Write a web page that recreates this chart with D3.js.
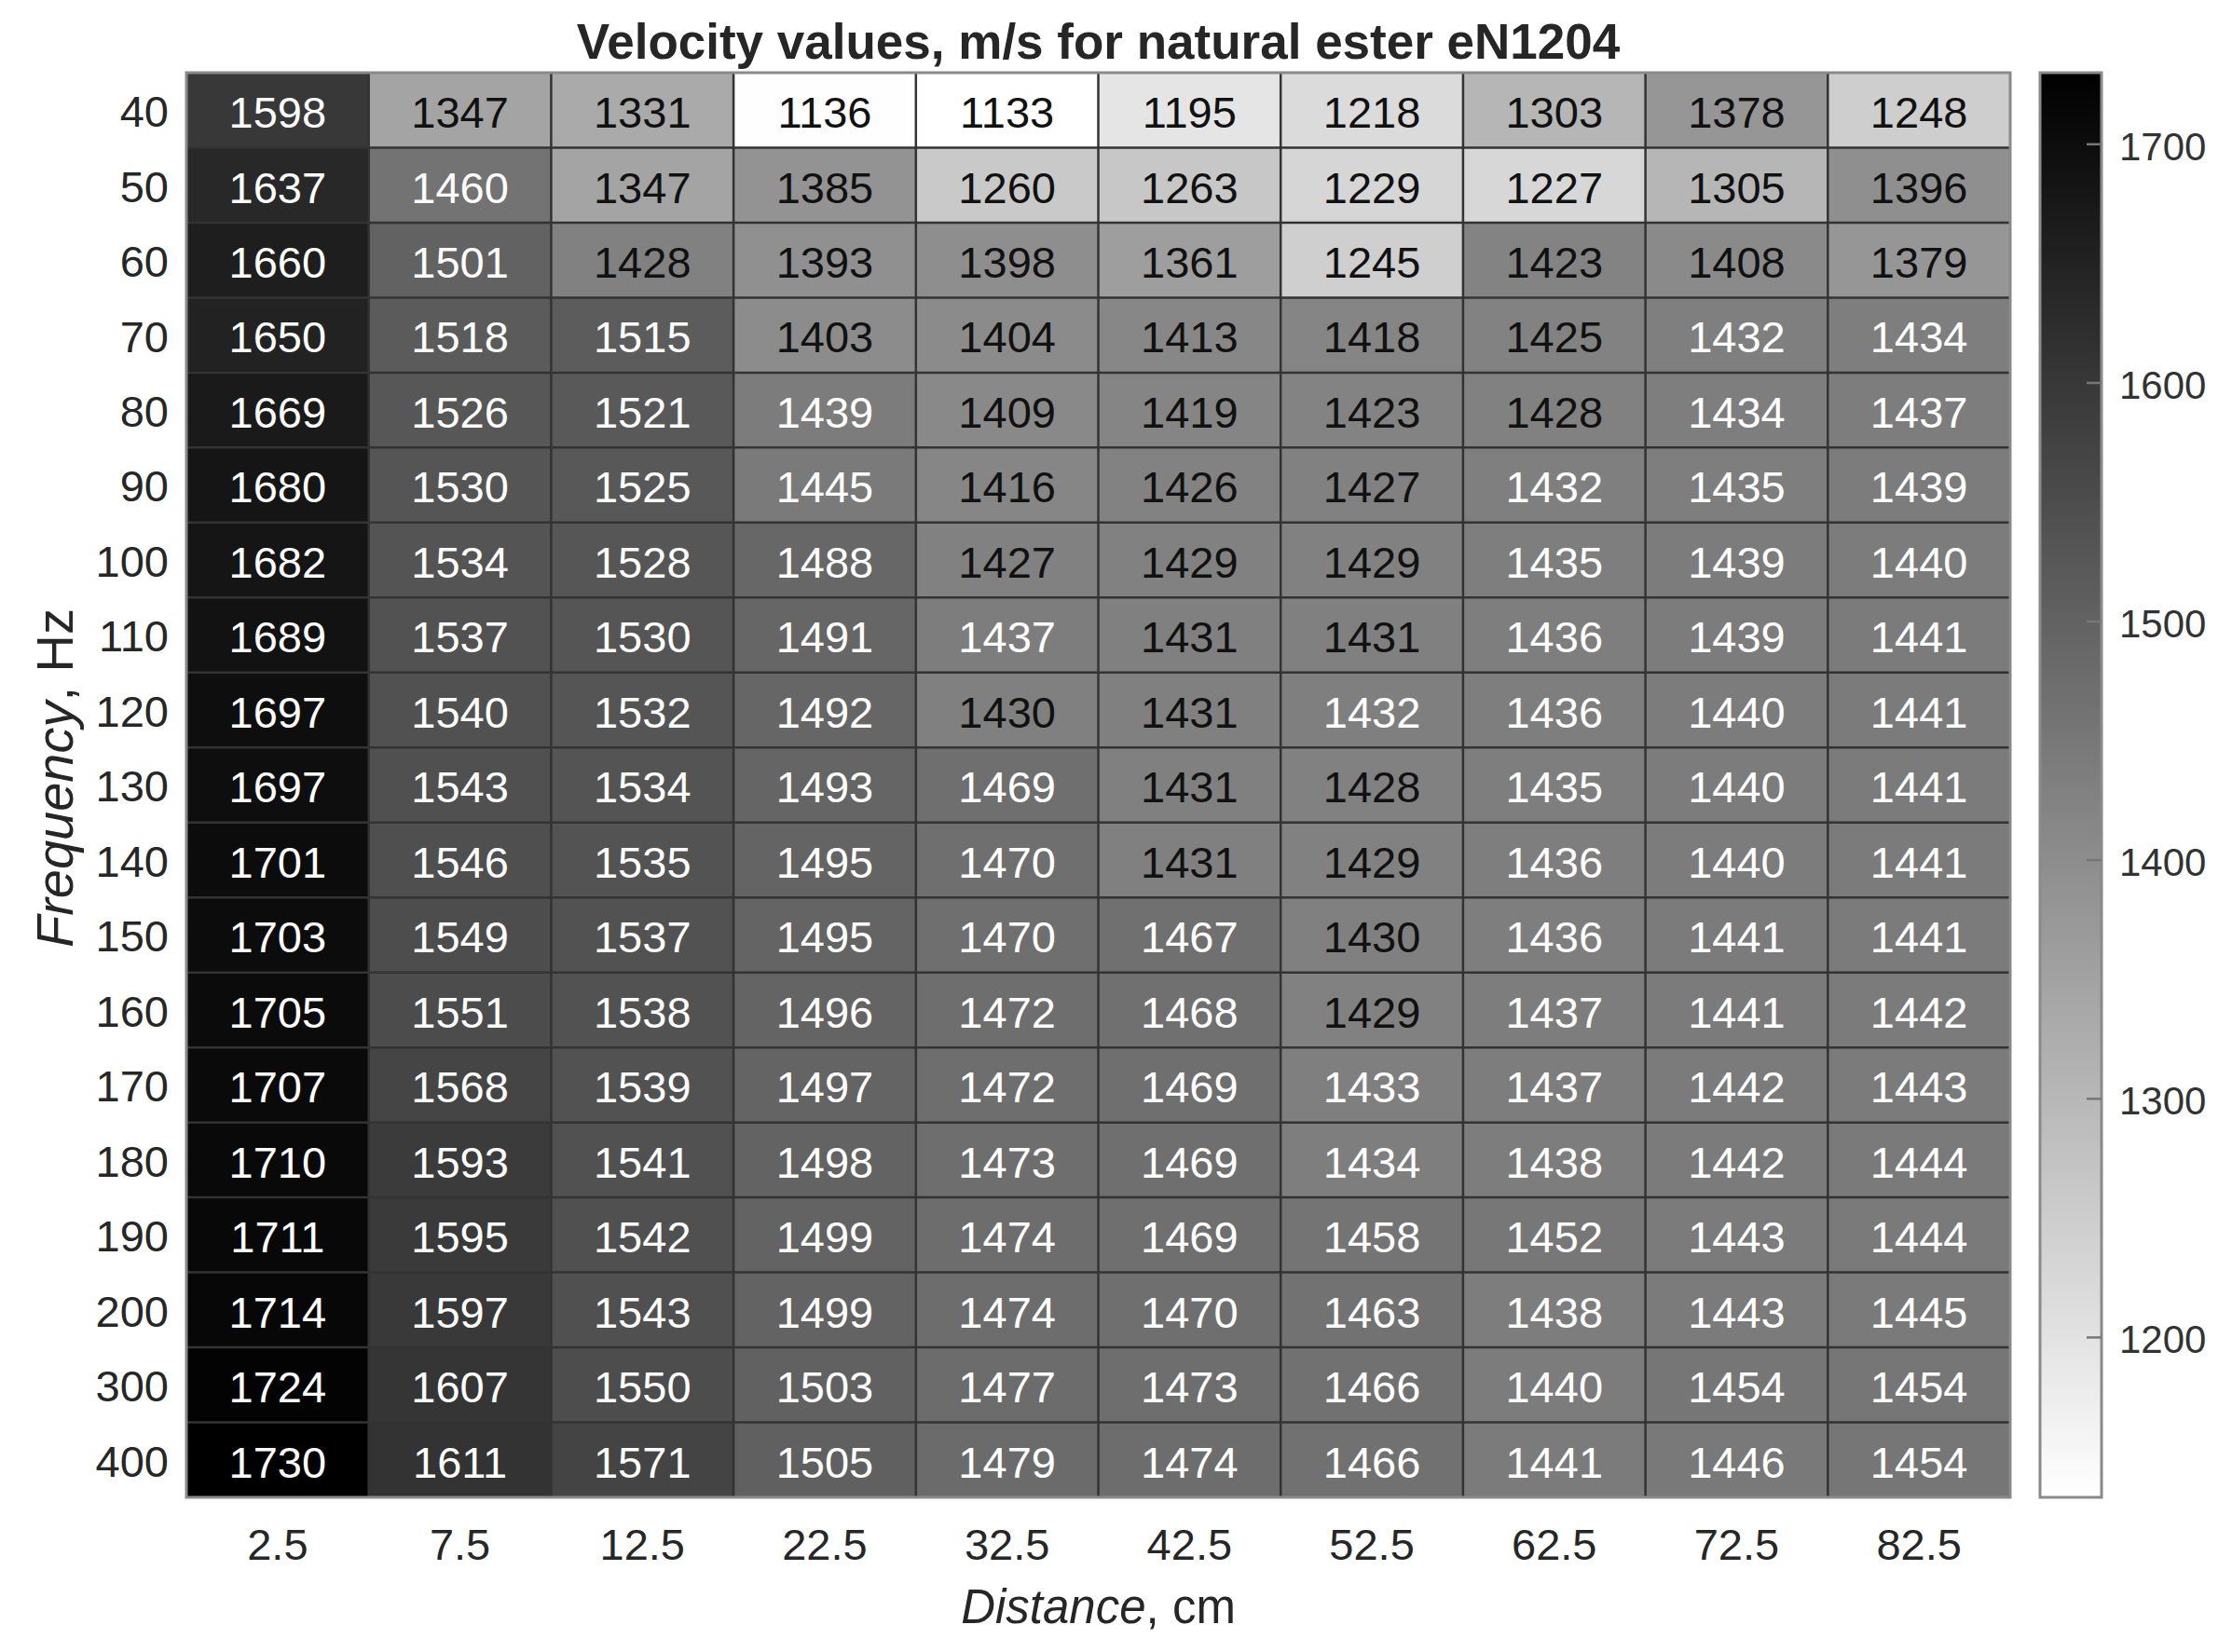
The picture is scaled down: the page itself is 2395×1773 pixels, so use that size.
<!DOCTYPE html>
<html>
<head>
<meta charset="utf-8">
<script src="https://cdn.jsdelivr.net/npm/d3@7"></script>
<style>
  body { margin: 0; background: #fff; }
  text { font-family: "Liberation Sans", Arial, sans-serif; }
</style>
</head>
<body>
<div id="chart"></div>
<script>
// distance (cm) along x, frequency (Hz) along y
let distances = ['2.5', '7.5', '12.5', '22.5', '32.5', '42.5', '52.5', '62.5', '72.5', '82.5'];
let frequencies = ['40', '50', '60', '70', '80', '90', '100', '110', '120', '130',
                   '140', '150', '160', '170', '180', '190', '200', '300', '400'];

// velocity, m/s, one row per frequency
let velocity = [
    [1598, 1347, 1331, 1136, 1133, 1195, 1218, 1303, 1378, 1248],
    [1637, 1460, 1347, 1385, 1260, 1263, 1229, 1227, 1305, 1396],
    [1660, 1501, 1428, 1393, 1398, 1361, 1245, 1423, 1408, 1379],
    [1650, 1518, 1515, 1403, 1404, 1413, 1418, 1425, 1432, 1434],
    [1669, 1526, 1521, 1439, 1409, 1419, 1423, 1428, 1434, 1437],
    [1680, 1530, 1525, 1445, 1416, 1426, 1427, 1432, 1435, 1439],
    [1682, 1534, 1528, 1488, 1427, 1429, 1429, 1435, 1439, 1440],
    [1689, 1537, 1530, 1491, 1437, 1431, 1431, 1436, 1439, 1441],
    [1697, 1540, 1532, 1492, 1430, 1431, 1432, 1436, 1440, 1441],
    [1697, 1543, 1534, 1493, 1469, 1431, 1428, 1435, 1440, 1441],
    [1701, 1546, 1535, 1495, 1470, 1431, 1429, 1436, 1440, 1441],
    [1703, 1549, 1537, 1495, 1470, 1467, 1430, 1436, 1441, 1441],
    [1705, 1551, 1538, 1496, 1472, 1468, 1429, 1437, 1441, 1442],
    [1707, 1568, 1539, 1497, 1472, 1469, 1433, 1437, 1442, 1443],
    [1710, 1593, 1541, 1498, 1473, 1469, 1434, 1438, 1442, 1444],
    [1711, 1595, 1542, 1499, 1474, 1469, 1458, 1452, 1443, 1444],
    [1714, 1597, 1543, 1499, 1474, 1470, 1463, 1438, 1443, 1445],
    [1724, 1607, 1550, 1503, 1477, 1473, 1466, 1440, 1454, 1454],
    [1730, 1611, 1571, 1505, 1479, 1474, 1466, 1441, 1446, 1454]
];

let colorbarTicks = [1200, 1300, 1400, 1500, 1600, 1700];

let width = 2395, height = 1773;
let plotLeft = 200, plotRight = 2157, plotTop = 78, plotBottom = 1607;

let svg = d3.select('#chart').append('svg')
    .attr('width', width)
    .attr('height', height);

let x = d3.scaleBand().domain(distances).range([plotLeft, plotRight]);
let y = d3.scaleBand().domain(frequencies).range([plotTop, plotBottom]);

// flat list of cells
let cells = [];
velocity.forEach(function (row, i) {
    row.forEach(function (v, j) {
        cells.push({f: frequencies[i], d: distances[j], v: v});
    });
});

let extent = d3.extent(cells, d => d.v);
let color = d3.scaleLinear().domain(extent).range(['#ffffff', '#000000']);
let mid = (extent[0] + extent[1]) / 2;

svg.append('g').selectAll('rect')
    .data(cells)
    .enter().append('rect')
    .attr('x', d => x(d.d))
    .attr('y', d => y(d.f))
    .attr('width', x.bandwidth())
    .attr('height', y.bandwidth())
    .attr('fill', d => color(d.v));

// grid lines between cells
let grid = svg.append('g').attr('stroke', '#333').attr('stroke-width', 2.5);
distances.slice(1).forEach(function (d) {
    grid.append('line')
        .attr('x1', x(d)).attr('x2', x(d))
        .attr('y1', plotTop).attr('y2', plotBottom);
});
frequencies.slice(1).forEach(function (f) {
    grid.append('line')
        .attr('x1', plotLeft).attr('x2', plotRight)
        .attr('y1', y(f)).attr('y2', y(f));
});

svg.append('rect')
    .attr('x', plotLeft).attr('y', plotTop)
    .attr('width', plotRight - plotLeft).attr('height', plotBottom - plotTop)
    .attr('fill', 'none')
    .attr('stroke', '#8a8a8a')
    .attr('stroke-width', 3);

// values inside the cells
svg.append('g').selectAll('text')
    .data(cells)
    .enter().append('text')
    .attr('x', d => x(d.d) + x.bandwidth() / 2)
    .attr('y', d => y(d.f) + y.bandwidth() / 2)
    .attr('dy', '0.4em')
    .attr('text-anchor', 'middle')
    .attr('font-size', 47)
    .attr('fill', d => d.v > mid ? '#ffffff' : '#111111')
    .text(d => d.v);

// axes
let xAxis = svg.append('g')
    .attr('transform', 'translate(0,' + plotBottom + ')')
    .call(d3.axisBottom(x).tickSize(0).tickPadding(0));
xAxis.select('.domain').remove();
xAxis.selectAll('text')
    .attr('y', 67)
    .attr('dy', 0)
    .attr('font-size', 47)
    .attr('fill', '#262626');

let yAxis = svg.append('g')
    .attr('transform', 'translate(' + plotLeft + ',0)')
    .call(d3.axisLeft(y).tickSize(0).tickPadding(19));
yAxis.select('.domain').remove();
yAxis.selectAll('text')
    .attr('dy', '0.38em')
    .attr('font-size', 47)
    .attr('fill', '#262626');

svg.selectAll('.tick text').style('font-family', '"Liberation Sans", Arial, sans-serif');

// title and axis labels
svg.append('text')
    .attr('x', (plotLeft + plotRight) / 2)
    .attr('y', 63)
    .attr('text-anchor', 'middle')
    .attr('font-size', 53)
    .attr('font-weight', 'bold')
    .attr('fill', '#262626')
    .text('Velocity values, m/s for natural ester eN1204');

let xLabel = svg.append('text')
    .attr('x', (plotLeft + plotRight) / 2)
    .attr('y', 1742)
    .attr('text-anchor', 'middle')
    .attr('font-size', 51)
    .attr('fill', '#262626');
xLabel.append('tspan').attr('font-style', 'italic').text('Distance');
xLabel.append('tspan').text(', cm');

let yLabel = svg.append('text')
    .attr('transform', 'translate(78,835) rotate(-90)')
    .attr('text-anchor', 'middle')
    .attr('font-size', 56)
    .attr('fill', '#262626');
yLabel.append('tspan').attr('font-style', 'italic').text('Frequency');
yLabel.append('tspan').text(', Hz');

// colorbar
let cbLeft = 2189, cbRight = 2255;
let cbScale = d3.scaleLinear().domain(extent).range([plotBottom, plotTop]);

let grad = svg.append('defs').append('linearGradient')
    .attr('id', 'cb-grad')
    .attr('x1', 0).attr('x2', 0)
    .attr('y1', 1).attr('y2', 0);
grad.append('stop').attr('offset', '0%').attr('stop-color', color(extent[0]));
grad.append('stop').attr('offset', '100%').attr('stop-color', color(extent[1]));

svg.append('rect')
    .attr('x', cbLeft).attr('y', plotTop)
    .attr('width', cbRight - cbLeft).attr('height', plotBottom - plotTop)
    .attr('fill', 'url(#cb-grad)')
    .attr('stroke', '#8a8a8a')
    .attr('stroke-width', 3);

let cb = svg.append('g').selectAll('g')
    .data(colorbarTicks)
    .enter().append('g')
    .attr('transform', d => 'translate(0,' + cbScale(d) + ')');
cb.append('line')
    .attr('x1', cbRight - 16).attr('x2', cbRight)
    .attr('stroke', '#777')
    .attr('stroke-width', 2.5);
cb.append('text')
    .attr('x', 2274)
    .attr('dy', '0.4em')
    .attr('font-size', 42)
    .attr('fill', '#333')
    .text(d => d);
</script>
</body>
</html>
